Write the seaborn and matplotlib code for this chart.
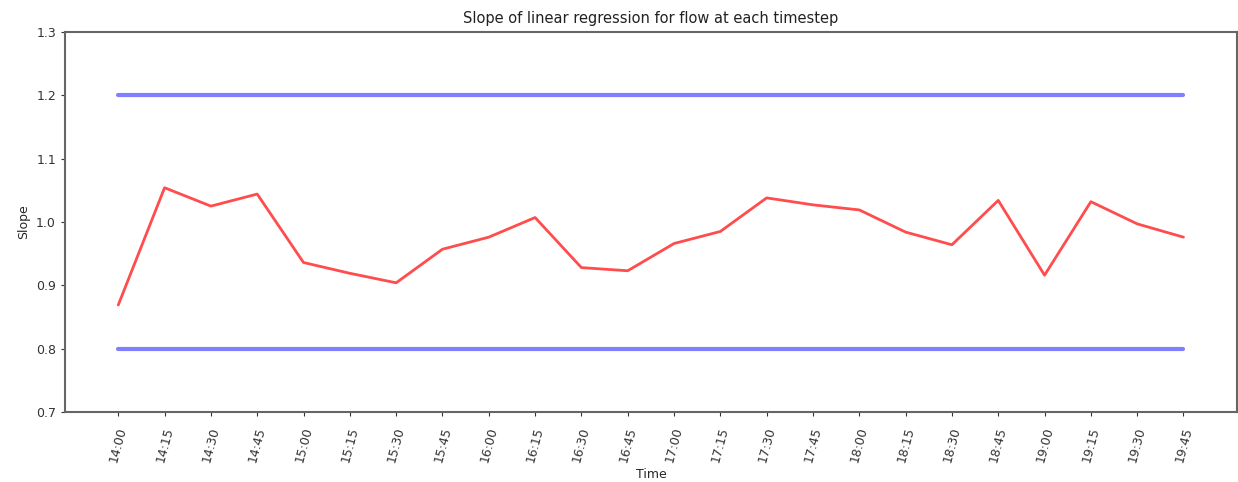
import matplotlib
matplotlib.use("Agg")
import matplotlib.pyplot as plt
import seaborn as sns
import numpy as np
import pandas as pd

times = ["14:00", "14:15", "14:30", "14:45", "15:00", "15:15", "15:30", "15:45",
         "16:00", "16:15", "16:30", "16:45", "17:00", "17:15", "17:30", "17:45",
         "18:00", "18:15", "18:30", "18:45", "19:00", "19:15", "19:30", "19:45"]
slopes = [0.869, 1.054, 1.025, 1.044, 0.936, 0.919, 0.904, 0.957,
          0.976, 1.007, 0.928, 0.923, 0.966, 0.985, 1.038, 1.027,
          1.019, 0.984, 0.964, 1.034, 0.916, 1.032, 0.997, 0.976]
lower_bound = 0.8
upper_bound = 1.2

sns.set_style("ticks")
plt.rcParams['font.family'] = ['DejaVu Sans']

idx = np.arange(len(times))
df = pd.DataFrame({"idx": idx, "slope": slopes,
                   "lower": [lower_bound] * len(times),
                   "upper": [upper_bound] * len(times)})

fig = plt.figure(figsize=(12.38, 4.82), dpi=100)
ax = fig.add_axes([0.0525, 0.145, 0.9465, 0.789])

sns.lineplot(data=df, x="idx", y="upper", ax=ax, color="blue", alpha=0.5, linewidth=3)
sns.lineplot(data=df, x="idx", y="lower", ax=ax, color="blue", alpha=0.5, linewidth=3)
sns.lineplot(data=df, x="idx", y="slope", ax=ax, color="red", alpha=0.7, linewidth=2)

ax.set_ylim(0.7, 1.3)
ax.set_xlim(-0.05 * 23, 23 * 1.05)
ax.set_xticks(idx)
ax.set_xticklabels(times, rotation=75, fontsize=9)
ax.tick_params(axis='y', labelsize=9)
ax.tick_params(axis='both', colors='#333333', length=3)
ax.tick_params(axis='x', pad=7)
ax.set_yticks([0.7, 0.8, 0.9, 1.0, 1.1, 1.2, 1.3])
ax.set_title("Slope of linear regression for flow at each timestep", fontsize=10.5, color='#222222')
ax.set_xlabel("Time", fontsize=9, labelpad=3)
ax.set_ylabel("Slope", fontsize=9)
for s in ax.spines.values():
    s.set_color('#666666')
    s.set_linewidth(1.5)

fig.savefig("out.png", dpi=100)
